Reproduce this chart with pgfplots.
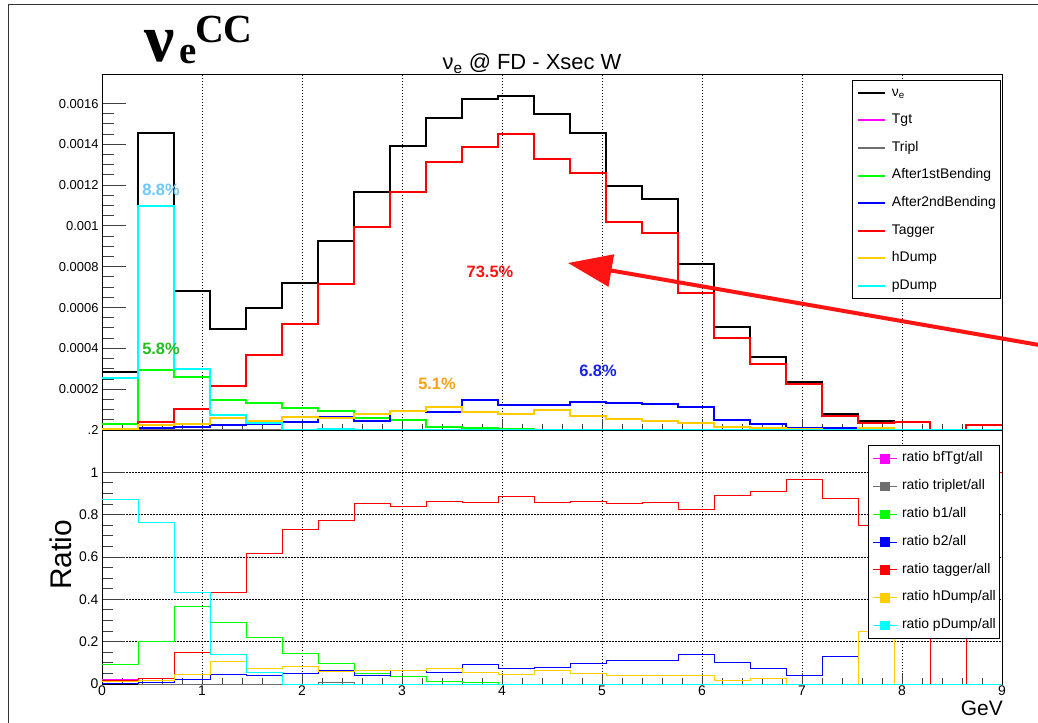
\documentclass[border=0pt]{standalone}
\usepackage{fontspec}
\setmainfont{Liberation Sans}
\newfontfamily\serifb{Liberation Serif}
\usepackage{pgfplots}
\usepackage{pgfplotstable}
\pgfplotsset{compat=1.18}
\usetikzlibrary{arrows.meta}

\definecolor{rgreen}{RGB}{0,255,0}
\definecolor{rblue}{RGB}{0,0,255}
\definecolor{rred}{RGB}{255,0,0}
\definecolor{rorange}{RGB}{255,204,0}
\definecolor{rcyan}{RGB}{0,255,255}
\definecolor{rmag}{RGB}{255,0,255}
\definecolor{rgray}{RGB}{110,110,110}
\definecolor{pblue}{RGB}{110,200,250}
\definecolor{pgreen}{RGB}{34,190,34}
\definecolor{porange}{RGB}{255,160,20}
\definecolor{pblue2}{RGB}{25,35,230}
\definecolor{parrow}{RGB}{255,20,20}

\pgfplotstableread{
x     nue       tgt   tripl b1      b2      tag       hd      pd
0     2.86e-4   6e-6  1e-6  2.7e-5  1e-6    5e-6      3e-6    2.53e-4
0.36  1.454e-3  0     0     2.94e-4 1.0e-5  3.7e-5    2.3e-5  1.10e-3
0.72  6.83e-4   0     0     2.58e-4 1.4e-5  1.01e-4   3.1e-5  2.99e-4
1.08  4.95e-4   0     0     1.47e-4 2.3e-5  2.17e-4   5.7e-5  7.35e-5
1.44  6.00e-4   0     0     1.34e-4 2.8e-5  3.68e-4   4.5e-5  3.5e-5
1.80  7.19e-4   0     0     1.08e-4 3.7e-5  5.20e-4   6.6e-5  0
2.16  9.28e-4   0     0     9.5e-5  6.3e-5  7.14e-4   6.0e-5  5e-6
2.52  1.165e-3  0     0     5.8e-5  4.6e-5  9.97e-4   8.0e-5  0
2.88  1.392e-3  0     0     4.9e-5  9.4e-5  1.165e-3  9.3e-5  0
3.24  1.528e-3  0     0     1.7e-5  8.6e-5  1.315e-3  1.12e-4 0
3.60  1.620e-3  0     0     8e-6    1.46e-4 1.389e-3  9.0e-5  0
3.96  1.637e-3  0     0     3e-6    1.21e-4 1.450e-3  7.9e-5  0
4.32  1.547e-3  0     0     0       1.24e-4 1.328e-3  1.00e-4 0
4.68  1.454e-3  0     0     0       1.38e-4 1.258e-3  7.0e-5  0
5.04  1.198e-3  0     0     0       1.34e-4 1.021e-3  5.2e-5  0
5.40  1.130e-3  0     0     0       1.26e-4 9.64e-4   4.6e-5  0
5.76  8.14e-4   0     0     0       1.15e-4 6.72e-4   3.5e-5  0
6.12  5.05e-4   0     0     0       5.1e-5  4.50e-4   1.6e-5  0
6.48  3.58e-4   0     0     0       2.7e-5  3.25e-4   1.2e-5  0
6.84  2.35e-4   0     0     0       1.0e-5  2.27e-4   3e-6    0
7.20  7.9e-5    0     0     0       1.0e-5  6.9e-5    2e-6    0
7.56  4.4e-5    0     0     0       0       3.3e-5    1.1e-5  0
7.92  3.8e-5    0     0     0       0       3.8e-5    0       0
8.28  0         0     0     0       0       0         0       0
8.64  2.4e-5    0     0     0       0       2.4e-5    0       0
9.00  2.4e-5    0     0     0       0       2.4e-5    0       0
}\toptab

\pgfplotstableread{
x     tgt    tri    b1     b2     tag    hd     pd
0     0.022  0.004  0.09   0.003  0.017  0.011  0.873
0.36  0      0      0.2    0.006  0.025  0.016  0.763
0.72  0      0      0.365  0.02   0.148  0.046  0.432
1.08  0      0      0.29   0.046  0.432  0.105  0.14
1.44  0      0      0.222  0.039  0.615  0.071  0.055
1.80  0      0      0.145  0.05   0.728  0.085  0
2.16  0      0.005  0.098  0.066  0.772  0.061  0
2.52  0      0      0.05   0.039  0.851  0.066  0
2.88  0      0      0.035  0.066  0.838  0.066  0
3.24  0      0      0.011  0.055  0.862  0.071  0
3.60  0      0      0.005  0.09   0.857  0.055  0
3.96  0      0      0      0.071  0.886  0.046  0
4.32  0      0      0      0.079  0.857  0.066  0
4.68  0      0      0      0.095  0.862  0.05   0
5.04  0      0      0      0.11   0.851  0.04   0
5.40  0      0      0      0.11   0.857  0.04   0
5.76  0      0      0      0.14   0.826  0.04   0
6.12  0      0      0      0.1    0.89   0.016  0
6.48  0      0      0      0.071  0.909  0.024  0
6.84  0      0      0      0.038  0.965  0      0
7.20  0      0      0      0.129  0.875  0      0
7.56  0      0      0      0      0.75   0.25   0
7.92  0      0      0      0      1      0      0
8.28  0      0      0      0      0      0      0
8.64  0      0      0      0      1      0      0
9.00  0      0      0      0      1      0      0
}\ratiotab

\begin{document}
\begin{tikzpicture}[x=1bp,y=-1bp]
\path[use as bounding box, fill=white] (0,0) rectangle (1038,723);
\draw[black!80, line width=1bp] (8,723) -- (8,5) -- (1038,5);

% ---------------- top pad ----------------
\begin{axis}[
  at={(102bp,-430bp)}, anchor=south west, scale only axis,
  width=900bp, height=355bp,
  xmin=0, xmax=9, ymin=0, ymax=0.00174,
  clip=false,
  xtick={0,1,2,3,4,5,6,7,8,9}, xticklabel=\empty,
  minor x tick num=4,
  ytick={0,0.0002,0.0004,0.0006,0.0008,0.001,0.0012,0.0014,0.0016},
  yticklabels={.2,0.0002,0.0004,0.0006,0.0008,0.001,0.0012,0.0014,0.0016},
  minor y tick num=3,
  scaled y ticks=false,
  tick align=inside, xtick pos=left, ytick pos=left,
  major tick length=11bp, minor tick length=6bp,
  every major y tick/.append style={/pgfplots/major tick length=24bp},
  every minor y tick/.append style={/pgfplots/minor tick length=12bp},
  tick style={black!75, line width=1bp},
  axis line style={black, line width=1bp},
  xmajorgrids,
  major x grid style={black, line width=0.7bp, dash pattern=on 1.5bp off 1.5bp},
  /pgf/number format/assume math mode=true,
  yticklabel style={font=\fontsize{13}{13}\selectfont},
  legend cell align=left,
  legend image code/.code={\draw[#1] (0bp,0bp) -- (27bp,0bp);},
  legend style={at={(0.8333,0.9859)}, anchor=north west, draw=black,
    line width=1bp, fill=white, inner xsep=4.5bp, inner ysep=6bp,
    row sep=15.1bp, column sep=6bp,
    font=\fontsize{14}{14}\selectfont,
    nodes={inner sep=0pt, text height=9.5bp, text depth=3bp}},
]
\addplot[const plot, black, line width=2bp] table[x=x,y=nue] {\toptab};
\addlegendentry{ν\textsubscript{e}}
\addplot[const plot, rmag, line width=2bp] table[x=x,y=tgt] {\toptab};
\addlegendentry{Tgt}
\addplot[const plot, rgray, line width=2bp] table[x=x,y=tripl] {\toptab};
\addlegendentry{Tripl}
\addplot[const plot, rgreen, line width=2bp] table[x=x,y=b1] {\toptab};
\addlegendentry{After1stBending}
\addplot[const plot, rblue, line width=2bp] table[x=x,y=b2] {\toptab};
\addlegendentry{After2ndBending}
\addplot[const plot, rred, line width=2bp] table[x=x,y=tag] {\toptab};
\addlegendentry{Tagger}
\addplot[const plot, rorange, line width=2bp] table[x=x,y=hd] {\toptab};
\addlegendentry{hDump}
\addplot[const plot, rcyan, line width=2bp] table[x=x,y=pd] {\toptab};
\addlegendentry{pDump}
\end{axis}

% ---------------- ratio pad ----------------
\begin{axis}[
  at={(102bp,-684bp)}, anchor=south west, scale only axis,
  width=900bp, height=254bp,
  xmin=0, xmax=9, ymin=0, ymax=1.2,
  clip=false,
  xtick={0,1,2,3,4,5,6,7,8,9},
  xticklabels={0,1,2,3,4,5,6,7,8,9},
  minor x tick num=4,
  ytick={0,0.2,0.4,0.6,0.8,1},
  yticklabels={0,0.2,0.4,0.6,0.8,1},
  minor y tick num=3,
  tick align=inside, xtick pos=left, ytick pos=left,
  major tick length=11bp, minor tick length=6bp,
  every major y tick/.append style={/pgfplots/major tick length=23bp},
  every minor y tick/.append style={/pgfplots/minor tick length=11bp},
  tick style={black!75, line width=1bp},
  axis line style={black, line width=1bp},
  xmajorgrids, ymajorgrids,
  major grid style={black, line width=0.7bp, dash pattern=on 1.5bp off 1.5bp},
  /pgf/number format/assume math mode=true,
  yticklabel style={font=\fontsize{14}{14}\selectfont},
  xticklabel style={font=\fontsize{14}{14}\selectfont, inner sep=2bp},
  legend cell align=left,
  legend image code/.code={\draw[#1] (0bp,0bp) -- (24bp,0bp);
     \fill[#1] (7.7bp,-4.3bp) rectangle (16.3bp,4.3bp);},
  legend style={at={(0.8511,0.941)}, anchor=north west, draw=black,
    line width=1bp, fill=white, inner xsep=4bp, inner ysep=7bp,
    row sep=15.3bp, column sep=4.5bp,
    font=\fontsize{14}{14}\selectfont,
    nodes={inner sep=0pt, text height=9.5bp, text depth=3bp}},
]
\addplot[const plot, rmag, line width=1bp] table[x=x,y=tgt] {\ratiotab};
\addlegendentry{ratio bfTgt/all}
\addplot[const plot, rgray, line width=1bp] table[x=x,y=tri] {\ratiotab};
\addlegendentry{ratio triplet/all}
\addplot[const plot, rgreen, line width=1bp] table[x=x,y=b1] {\ratiotab};
\addlegendentry{ratio b1/all}
\addplot[const plot, rblue, line width=1bp] table[x=x,y=b2] {\ratiotab};
\addlegendentry{ratio b2/all}
\addplot[const plot, rred, line width=1bp] table[x=x,y=tag] {\ratiotab};
\addlegendentry{ratio tagger/all}
\addplot[const plot, rorange, line width=1bp] table[x=x,y=hd] {\ratiotab};
\addlegendentry{ratio hDump/all}
\addplot[const plot, rcyan, line width=1bp] table[x=x,y=pd] {\ratiotab};
\addlegendentry{ratio pDump/all}
\end{axis}

% ---------------- texts ----------------
\node[anchor=base west, inner sep=0pt, font=\serifb\bfseries\fontsize{68}{68}\selectfont] at (144,62) {ν};
\node[anchor=base west, inner sep=0pt, font=\serifb\bfseries\fontsize{39}{39}\selectfont] at (179,64) {e};
\node[anchor=base west, inner sep=0pt, font=\serifb\bfseries\fontsize{40}{40}\selectfont] at (195,43) {CC};

\node[anchor=base, inner sep=0pt, font=\fontsize{22}{22}\selectfont] at (532,70) {ν\textsubscript{e} @ FD - Xsec W};

\node[rotate=90, inner sep=0pt, font=\fontsize{30}{30}\selectfont] at (61,555) {Ratio};
\node[anchor=base east, inner sep=0pt, font=\fontsize{21}{21}\selectfont] at (1003,715) {GeV};

\node[text=pblue, font=\bfseries\fontsize{16.5}{16.5}\selectfont] at (161,190) {8.8\%};
\node[text=pgreen, font=\bfseries\fontsize{16.5}{16.5}\selectfont] at (161,349) {5.8\%};
\node[text=porange, font=\bfseries\fontsize{16.5}{16.5}\selectfont] at (437,384) {5.1\%};
\node[text=pblue2, font=\bfseries\fontsize{16.5}{16.5}\selectfont] at (598,371) {6.8\%};
\node[text=parrow, font=\bfseries\fontsize{16.5}{16.5}\selectfont] at (490,272) {73.5\%};

\draw[parrow, line width=4bp, -{Triangle[length=44bp,width=32bp]}] (1045,346) -- (568,263);
\end{tikzpicture}
\end{document}
